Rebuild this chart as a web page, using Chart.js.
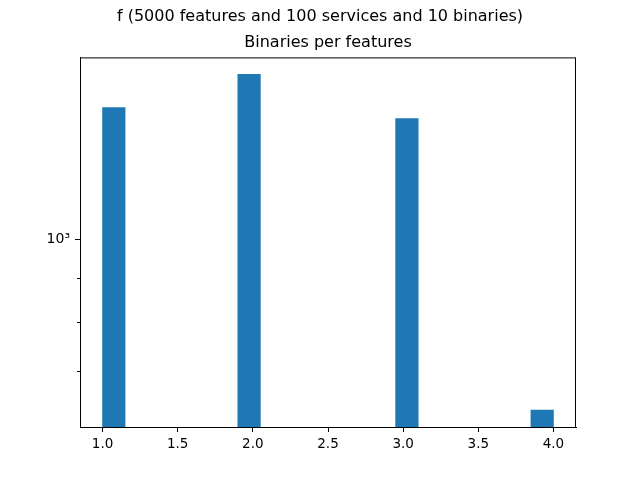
<!DOCTYPE html>
<html>
<head>
<meta charset="utf-8">
<script src="https://cdn.jsdelivr.net/npm/chart.js@4/dist/chart.umd.min.js"></script>
<style>
  html, body { margin: 0; padding: 0; background: #fff; }
</style>
</head>
<body>
<canvas id="myChart" width="640" height="480"></canvas>
<script>
// histogram: 20 bins from 1.0 to 4.0, empty bins are null
const binStart = 1.0;
const binWidth = 0.15;
const counts = [1426, null, null, null, null, null, 1560, null, null, null,
                null, null, null, 1384, null, null, null, null, null, 630];
const xTicks = [1.0, 1.5, 2.0, 2.5, 3.0, 3.5, 4.0];
const yTicks = [700, 800, 900, 1000];
const yLabelled = [1000];

const points = counts.map((c, i) => ({ x: binStart + binWidth * (i + 0.5), y: c }));

const font = "'DejaVu Sans', sans-serif";

const framePlugin = {
  id: 'frame',
  afterDraw(chart) {
    const { ctx, chartArea } = chart;
    const y = chart.scales.y;
    ctx.save();
    ctx.strokeStyle = '#000';
    ctx.lineWidth = 1;
    ctx.strokeRect(chartArea.left + 0.5, chartArea.top + 0.5,
                   chartArea.right - chartArea.left - 1, chartArea.bottom - chartArea.top);
    yTicks.forEach(v => {
      const py = Math.round(y.getPixelForValue(v)) + 0.5;
      const len = yLabelled.includes(v) ? 5 : 3;
      ctx.beginPath();
      ctx.moveTo(chartArea.left, py);
      ctx.lineTo(chartArea.left - len, py);
      ctx.stroke();
    });
    ctx.restore();
  }
};

const config = {
  type: 'bar',
  data: {
    datasets: [{
      data: points,
      backgroundColor: '#1f77b4',
      borderWidth: 0,
      barPercentage: 1,
      categoryPercentage: 1
    }]
  },
  options: {
    responsive: false,
    animation: false,
    layout: { padding: 0 },
    plugins: {
      legend: { display: false },
      tooltip: { enabled: false },
      title: {
        display: true,
        text: 'f (5000 features and 100 services and 10 binaries)',
        color: '#000',
        font: { family: font, size: 16, weight: 'normal' },
        padding: { top: 7, bottom: 7 }
      },
      subtitle: {
        display: true,
        fullSize: false,
        text: 'Binaries per features',
        color: '#000',
        font: { family: font, size: 16, weight: 'normal' },
        padding: { top: 0, bottom: 5 }
      }
    },
    scales: {
      x: {
        type: 'linear',
        offset: false,
        min: 0.85,
        max: 4.15,
        afterBuildTicks: scale => { scale.ticks = xTicks.map(v => ({ value: v })); },
        afterFit: scale => { scale.height = 53; },
        ticks: {
          color: '#000',
          font: { family: font, size: 13.5 },
          padding: 4,
          maxRotation: 0,
          callback: v => v.toFixed(1)
        },
        grid: { drawOnChartArea: false, tickLength: 5, color: '#000', offset: false },
        border: { color: '#000' }
      },
      y: {
        type: 'logarithmic',
        min: 602,
        max: 1633,
        afterBuildTicks: scale => { scale.ticks = yTicks.map(v => ({ value: v })); },
        afterFit: scale => { scale.width = 80; },
        ticks: {
          color: '#000',
          font: { family: font, size: 14 },
          padding: 10,
          callback: v => yLabelled.includes(v) ? '10³' : ''
        },
        grid: { drawOnChartArea: false, drawTicks: false },
        border: { color: '#000' }
      },
      // empty right-hand axis: reserves the right margin so the main title stays centred
      yRight: {
        type: 'linear',
        position: 'right',
        afterFit: scale => { scale.width = 64; },
        ticks: { display: false },
        grid: { display: false },
        border: { display: false }
      }
    }
  },
  plugins: [framePlugin]
};

const myChart = new Chart(document.getElementById('myChart'), config);
</script>
</body>
</html>
